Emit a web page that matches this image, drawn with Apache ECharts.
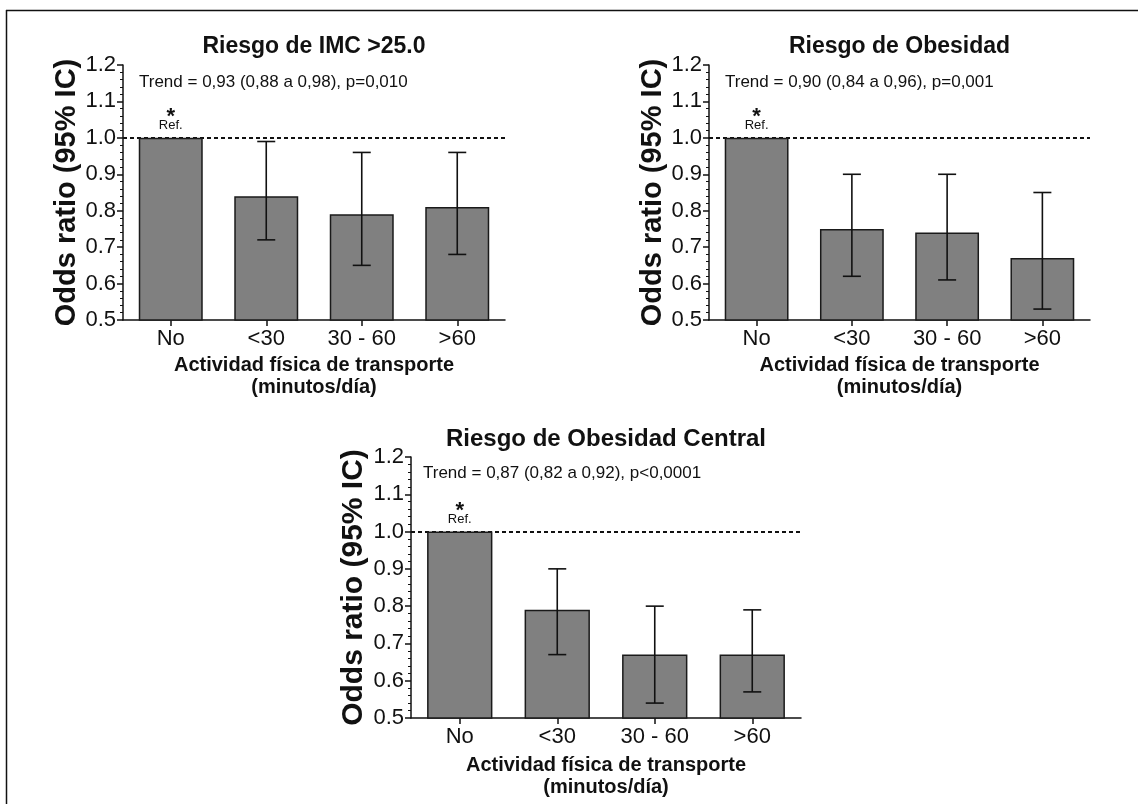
<!DOCTYPE html>
<html>
<head>
<meta charset="utf-8">
<script src="https://cdn.jsdelivr.net/npm/echarts@6/dist/echarts.min.js"></script>
<style>
html,body{margin:0;padding:0;background:#fff;}
#chart{width:1138px;height:804px;}
</style>
</head>
<body>
<div id="chart"></div>
<script>
// ---- data ----
const categories = ['No', '<30', '30 - 60', '>60'];
const panelTitles = ['Riesgo de IMC >25.0', 'Riesgo de Obesidad', 'Riesgo de Obesidad Central'];
const trendTexts = [
  'Trend = 0,93 (0,88 a 0,98), p=0,010',
  'Trend = 0,90 (0,84 a 0,96), p=0,001',
  'Trend = 0,87 (0,82 a 0,92), p<0,0001'
];
const yAxisName = 'Odds ratio (95% IC)';
const xAxisName = 'Actividad física de transporte\n(minutos/día)';
const refLabel = 'Ref.';

const orIMC   = [1.00, 0.84, 0.79, 0.81];
const loIMC   = [null, 0.72, 0.65, 0.68];
const hiIMC   = [null, 0.99, 0.96, 0.96];

const orObes  = [1.00, 0.75, 0.74, 0.67];
const loObes  = [null, 0.62, 0.61, 0.53];
const hiObes  = [null, 0.90, 0.90, 0.85];

const orCent  = [1.00, 0.79, 0.67, 0.67];
const loCent  = [null, 0.67, 0.54, 0.57];
const hiCent  = [null, 0.90, 0.80, 0.79];

const yMin = 0.5, yMax = 1.2, yInterval = 0.1;
const refValue = 1.0;

// ---- layout ----
const FONT = '"Liberation Sans", Arial, Helvetica, sans-serif';
const grids = [
  {left: 123, top: 65, width: 382, height: 255},
  {left: 709, top: 65, width: 381, height: 255},
  {left: 411, top: 457, width: 390, height: 261}
];
const panels = [
  {or: orIMC, lo: loIMC, hi: hiIMC, titleSize: 23, yNameSize: 29, yNameGap: 39, xNameGap: 34},
  {or: orObes, lo: loObes, hi: hiObes, titleSize: 23, yNameSize: 29, yNameGap: 39, xNameGap: 34},
  {or: orCent, lo: loCent, hi: hiCent, titleSize: 24, yNameSize: 30, yNameGap: 42, xNameGap: 36}
];
const trendPos = [[139, 82], [725, 82], [423, 473]];

const chart = echarts.init(document.getElementById('chart'), null, {renderer: 'canvas'});

const option = {
  backgroundColor: '#ffffff',
  animation: false,
  textStyle: {fontFamily: FONT},
  title: [],
  grid: [],
  xAxis: [],
  yAxis: [],
  series: [],
  graphic: []
};

panels.forEach((p, i) => {
  const g = grids[i];
  option.grid.push({left: g.left, top: g.top, width: g.width, height: g.height, containLabel: false});
  option.title.push({
    text: panelTitles[i],
    left: g.left + g.width / 2,
    top: g.top - 30,
    textAlign: 'center',
    padding: 0,
    textStyle: {fontFamily: FONT, fontSize: p.titleSize, fontWeight: 'bold', color: '#111'}
  });
  option.xAxis.push({
    type: 'category',
    gridIndex: i,
    data: categories,
    boundaryGap: true,
    axisLine: {show: true, lineStyle: {color: '#111', width: 1.5}},
    axisTick: {show: true, alignWithLabel: true, length: 6, lineStyle: {color: '#111', width: 1.5}},
    axisLabel: {fontFamily: FONT, fontSize: 22, color: '#111', margin: 8},
    name: xAxisName,
    nameLocation: 'middle',
    nameGap: p.xNameGap,
    nameTextStyle: {fontFamily: FONT, fontSize: 20, fontWeight: 'bold', color: '#111', lineHeight: 22},
    splitLine: {show: false}
  });
  option.yAxis.push({
    type: 'value',
    gridIndex: i,
    min: yMin,
    max: yMax,
    interval: yInterval,
    axisLine: {show: true, lineStyle: {color: '#111', width: 1.5}},
    axisTick: {show: true, length: 6, lineStyle: {color: '#111', width: 1.5}},
    minorTick: {show: true, splitNumber: 5, length: 3, lineStyle: {color: '#111', width: 1}},
    axisLabel: {fontFamily: FONT, fontSize: 22, color: '#111', margin: 7,
      formatter: v => v.toFixed(1)},
    splitLine: {show: false},
    name: yAxisName,
    nameLocation: 'middle',
    nameRotate: 90,
    nameGap: p.yNameGap,
    nameTextStyle: {fontFamily: FONT, fontSize: p.yNameSize, fontWeight: 'bold', color: '#111'}
  });

  const barData = p.or.map((v, k) => {
    const item = {value: v};
    if (p.lo[k] === null) {
      item.label = {
        show: true,
        position: 'top',
        distance: 5,
        formatter: '{s|*}\n{r|' + refLabel + '}',
        rich: {
          s: {fontFamily: FONT, fontSize: 22, fontWeight: 'bold', color: '#111', lineHeight: 4, align: 'center'},
          r: {fontFamily: FONT, fontSize: 13, color: '#111', lineHeight: 14, align: 'center'}
        }
      };
    }
    return item;
  });

  option.series.push({
    type: 'bar',
    xAxisIndex: i,
    yAxisIndex: i,
    data: barData,
    barWidth: '67%',
    itemStyle: {color: '#808080', borderColor: '#1a1a1a', borderWidth: 1.5},
    z: 2,
    markLine: {
      silent: true,
      symbol: 'none',
      label: {show: false},
      lineStyle: {type: [4, 3], color: '#111', width: 2},
      data: [{yAxis: refValue}],
      z: 1
    }
  });

  const errData = [];
  p.lo.forEach((lo, k) => { if (lo !== null) errData.push([k, lo, p.hi[k]]); });
  option.series.push({
    type: 'custom',
    xAxisIndex: i,
    yAxisIndex: i,
    z: 5,
    silent: true,
    data: errData,
    renderItem: (params, api) => {
      const x = api.value(0);
      const lo = api.coord([x, api.value(1)]);
      const hi = api.coord([x, api.value(2)]);
      const cap = 9;
      const style = {stroke: '#111', lineWidth: 1.6, fill: null};
      return {
        type: 'group',
        children: [
          {type: 'line', shape: {x1: hi[0], y1: hi[1], x2: lo[0], y2: lo[1]}, style},
          {type: 'line', shape: {x1: hi[0] - cap, y1: hi[1], x2: hi[0] + cap, y2: hi[1]}, style},
          {type: 'line', shape: {x1: lo[0] - cap, y1: lo[1], x2: lo[0] + cap, y2: lo[1]}, style}
        ]
      };
    }
  });

  option.graphic.push({
    type: 'text',
    x: trendPos[i][0],
    y: trendPos[i][1],
    style: {text: trendTexts[i], font: '17px ' + FONT, fill: '#111', verticalAlign: 'middle', align: 'left'}
  });
});

// frame lines (top and left edges of the figure border)
option.graphic.push({
  type: 'line', shape: {x1: 6, y1: 10.5, x2: 1138, y2: 10.5},
  style: {stroke: '#111', lineWidth: 1.5}
});
option.graphic.push({
  type: 'line', shape: {x1: 6.5, y1: 10, x2: 6.5, y2: 804},
  style: {stroke: '#111', lineWidth: 1.5}
});

chart.setOption(option);
</script>
</body>
</html>
